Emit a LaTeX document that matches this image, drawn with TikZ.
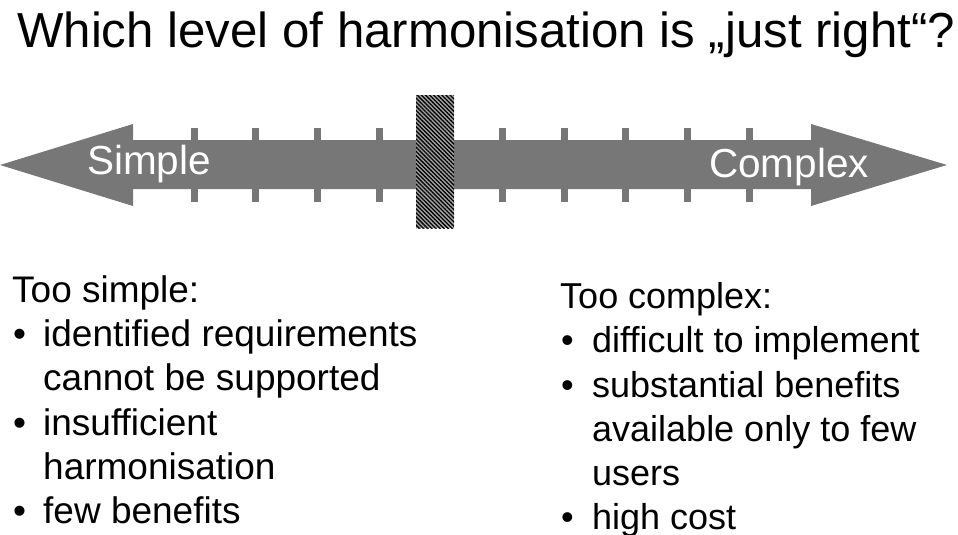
\documentclass[tikz,border=0pt]{standalone}
\usepackage{fontspec}
\setmainfont[Ligatures=NoCommon]{Liberation Sans}
\usetikzlibrary{patterns.meta}
\definecolor{bargray}{RGB}{119,119,119}
\definecolor{hatchbg}{RGB}{165,165,165}
\begin{document}
\begin{tikzpicture}[x=1pt,y=-1pt,
  txt/.style={anchor=base west,inner sep=0pt,font=\fontsize{37}{44}\selectfont},
  rtxt/.style={anchor=base west,inner sep=0pt,font=\fontsize{36}{44}\selectfont},
  barlbl/.style={anchor=base west,inner sep=0pt,text=white,font=\fontsize{40.5}{48}\selectfont},
  title/.style={anchor=base west,inner sep=0pt,font=\fontsize{49.2}{58}\selectfont}]
\useasboundingbox (0,0) rectangle (958,535);
% double arrow
\fill[bargray] (0,165) -- (133,124) -- (133,140) -- (811,140) -- (811,124) -- (947,165)
  -- (811,206) -- (811,189) -- (133,189) -- (133,206) -- cycle;
\foreach \x in {194,255,317,379,502,564,625,687,749}{
  \fill[bargray] (\x-3.5,128) rectangle (\x+3.5,202);
}
% hatched marker
\fill[hatchbg] (416,95) rectangle (454,228);
\fill[pattern={Lines[angle=-45,distance=2.9pt,line width=1.3pt]},pattern color=black]
  (416,95) rectangle (454,228);
\node[barlbl] (simple) at (87,174) {Simple};
\node[barlbl] (complex) at (709,177) {Complex};
% title
\node[title] (t) at (17,48) {Which level of harmonisation is „just right“?};
% left list
\node[txt] (l0) at (12,302) {Too simple:};
\node[txt] (lb1) at (13,346) {•};
\node[txt] (l1) at (43,346) {identified requirements};
\node[txt] (l2) at (43,390) {cannot be supported};
\node[txt] (lb2) at (13,435) {•};
\node[txt] (l3) at (43,435) {insufficient};
\node[txt] (l4) at (43,479) {harmonisation};
\node[txt] (lb3) at (13,523) {•};
\node[txt] (l5) at (43,523) {few benefits};
% right list
\node[rtxt] (r0) at (560,308) {Too complex:};
\node[rtxt] (rb1) at (561,352) {•};
\node[rtxt] (r1) at (592,352) {difficult to implement};
\node[rtxt] (rb2) at (561,397) {•};
\node[rtxt] (r2) at (592,397) {substantial benefits};
\node[rtxt] (r3) at (592,441) {available only to few};
\node[rtxt] (r4) at (592,485) {users};
\node[rtxt] (rb3) at (561,529) {•};
\node[rtxt] (r5) at (592,529) {high cost};
\end{tikzpicture}
\end{document}
